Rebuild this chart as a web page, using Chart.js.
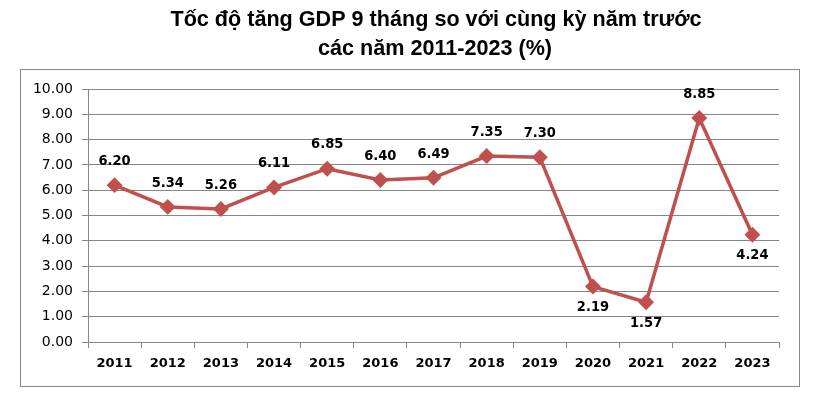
<!DOCTYPE html>
<html lang="vi">
<head>
    <meta charset="UTF-8">
    <title>Tốc độ tăng GDP 9 tháng</title>
    <script src="https://cdn.jsdelivr.net/npm/chart.js"></script>
    <style>
        body { margin: 0; padding: 0; background: #ffffff; }
        #wrap { width: 820px; height: 397px; }
    </style>
</head>
<body>
    <div id="wrap"><canvas id="myChart"></canvas></div>

    <script>
        // Dữ liệu
        var years = ['2011', '2012', '2013', '2014', '2015', '2016', '2017', '2018', '2019', '2020', '2021', '2022', '2023'];
        var growth = [6.20, 5.34, 5.26, 6.11, 6.85, 6.40, 6.49, 7.35, 7.30, 2.19, 1.57, 8.85, 4.24];
        // nhãn nằm dưới điểm cho các năm này
        var labelBelow = ['2020', '2021', '2023'];
        var titleLines = ['Tốc độ tăng GDP 9 tháng so với cùng kỳ năm trước', 'các năm 2011-2023 (%)'];

        var lineColor = '#C0504D';
        var gridColor = '#868686';

        // khung ngoài + tiêu đề
        var frame = {
            id: 'frame',
            beforeDraw: function (chart) {
                var c = chart.ctx;
                c.save();
                c.strokeStyle = gridColor;
                c.lineWidth = 1;
                c.strokeRect(20.5, 69.5, 779, 317);
                c.fillStyle = '#000';
                c.font = 'bold 21.6px "Liberation Sans", Arial, sans-serif';
                c.textAlign = 'center';
                c.textBaseline = 'alphabetic';
                c.fillText(titleLines[0], 436, 26);
                c.fillText(titleLines[1], 435, 55);
                c.restore();
            }
        };

        // nhãn giá trị
        var valueLabels = {
            id: 'valueLabels',
            afterDatasetsDraw: function (chart) {
                var c = chart.ctx;
                var meta = chart.getDatasetMeta(0);
                c.save();
                c.font = 'bold 14.5px "DejaVu Sans Condensed", "DejaVu Sans"';
                c.fillStyle = '#000';
                c.textAlign = 'center';
                c.textBaseline = 'middle';
                meta.data.forEach(function (pt, i) {
                    var below = labelBelow.indexOf(years[i]) >= 0;
                    c.fillText(growth[i].toFixed(2), pt.x, below ? pt.y + 21 : pt.y - 24);
                });
                c.restore();
            }
        };

        var ctx = document.getElementById('myChart').getContext('2d');
        new Chart(ctx, {
            type: 'line',
            data: {
                labels: years,
                datasets: [{
                    data: growth,
                    borderColor: lineColor,
                    backgroundColor: lineColor,
                    borderWidth: 3.5,
                    pointStyle: 'rectRot',
                    pointRadius: 5.5,
                    pointBackgroundColor: lineColor,
                    pointBorderColor: lineColor,
                    tension: 0
                }]
            },
            options: {
                responsive: true,
                maintainAspectRatio: false,
                animation: false,
                layout: { padding: { left: 20, right: 41, top: 89, bottom: 0 } },
                plugins: {
                    legend: { display: false },
                    tooltip: { enabled: false },
                    title: { display: false }
                },
                scales: {
                    x: {
                        offset: true,
                        grid: {
                            display: true,
                            offset: true,
                            drawOnChartArea: false,
                            tickLength: 6,
                            color: gridColor
                        },
                        border: { color: gridColor },
                        ticks: {
                            color: '#000',
                            padding: 8,
                            maxRotation: 0,
                            font: { family: '"DejaVu Sans"', size: 13, weight: 'bold' }
                        },
                        afterFit: function (s) { s.height = 55; }
                    },
                    y: {
                        min: 0,
                        max: 10,
                        grid: { color: gridColor, tickLength: 6 },
                        border: { color: gridColor },
                        ticks: {
                            stepSize: 1,
                            color: '#000',
                            padding: 9,
                            font: { family: '"DejaVu Sans"', size: 14 },
                            callback: function (v) { return v.toFixed(2); }
                        },
                        afterFit: function (s) { s.width = 68; }
                    }
                }
            },
            plugins: [frame, valueLabels]
        });
    </script>
</body>
</html>
